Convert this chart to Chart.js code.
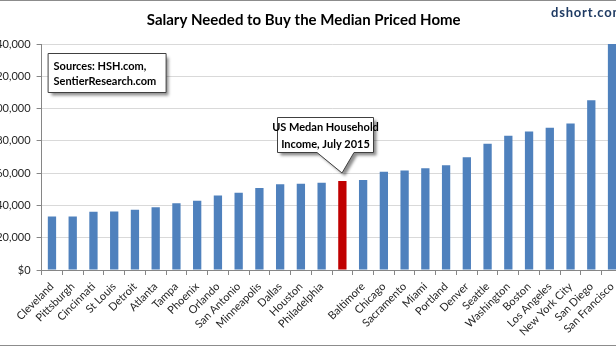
<!DOCTYPE html>
<html><head><meta charset="utf-8">
<script src="https://cdn.jsdelivr.net/npm/chart.js@4.4.0/dist/chart.umd.min.js"></script>
<style>
html,body{margin:0;padding:0;background:#fff;overflow:hidden;width:616px;height:346px;position:relative;}
#wrap{position:absolute;left:-15px;top:0;width:642px;height:346px;}
.hl{position:absolute;left:0;width:616px;height:1px;background:#8c8c8c;}
</style></head>
<body>
<div id="wrap"><canvas id="c"></canvas></div>
<div class="hl" style="top:0"></div>
<div class="hl" style="top:345px"></div>
<script>
const categories = ["Cleveland","Pittsburgh","Cincinnati","St Louis","Detroit","Atlanta","Tampa","Phoenix","Orlando","San Antonio","Minneapolis","Dallas","Houston","Philadelphia","","Baltimore","Chicago","Sacramento","Miami","Portland","Denver","Seattle","Washington","Boston","Los Angeles","New York City","San Diego","San Francisco"];
const salaryNeeded = [33200,33100,36100,36200,37300,38800,41300,42900,46200,47900,50800,53100,53500,54100,55200,55800,60900,61600,63000,64900,69800,78200,83100,85800,88100,90800,105100,140000];
const highlightIndex = 14;
const yTickValues = [0,20000,40000,60000,80000,100000,120000,140000];
const titleText = "Salary Needed to Buy the Median Priced Home";
const sourceLines = ["Sources: HSH.com,","SentierResearch.com"];
const calloutLines = ["US Medan Household","Income, July 2015"];
const siteText = "dshort.com";

const barColors = salaryNeeded.map((v,i)=> i===highlightIndex ? '#C00000' : '#4F81BD');
const FONT = 'Lato, "Open Sans", sans-serif';

function boxPath(ctx, l, t, r, b, pointer){
  ctx.beginPath();
  ctx.moveTo(l,t); ctx.lineTo(r,t); ctx.lineTo(r,b);
  if(pointer){
    ctx.lineTo(pointer.br,b); ctx.lineTo(pointer.x,pointer.y); ctx.lineTo(pointer.bl,b);
  }
  ctx.lineTo(l,b); ctx.closePath();
}
function drawShape(ctx, l,t,r,b,pointer){
  ctx.save();
  ctx.shadowColor='rgba(0,0,0,0.45)'; ctx.shadowOffsetX=3; ctx.shadowOffsetY=3; ctx.shadowBlur=3;
  boxPath(ctx,l,t,r,b,pointer); ctx.fillStyle='#fff'; ctx.fill();
  ctx.restore();
  ctx.save();
  boxPath(ctx,l,t,r,b,pointer); ctx.strokeStyle='#404040'; ctx.lineWidth=1; ctx.stroke();
  ctx.restore();
}

const annotations = {
  id:'annotations',
  afterDraw(chart){
    const ctx = chart.ctx, ca = chart.chartArea;
    // sources box
    const sl = ca.left+6, st = ca.top+9;
    drawShape(ctx, sl+0.5, st+0.5, sl+118.5, st+39.5, null);
    ctx.save();
    ctx.fillStyle='#000'; ctx.font='bold 11px '+FONT; ctx.textBaseline='middle'; ctx.textAlign='left';
    ctx.fillText(sourceLines[0], sl+6, st+13);
    ctx.fillText(sourceLines[1], sl+6, st+28);
    ctx.restore();
    // callout to highlighted bar
    const bar = chart.getDatasetMeta(0).data[highlightIndex];
    const tx = Math.round(bar.x), ty = Math.round(bar.y)-8;
    const l = tx-64.5, r = tx+31.5, t = ty-55.5, b = ty-20.5;
    drawShape(ctx, l, t, r, b, {x:tx, y:ty, bl:tx-25, br:tx+12});
    ctx.save();
    ctx.fillStyle='#000'; ctx.font='bold 11px '+FONT; ctx.textBaseline='middle'; ctx.textAlign='center';
    const cx=(l+r)/2;
    ctx.fillText(calloutLines[0], cx, t+10);
    ctx.fillText(calloutLines[1], cx, t+27);
    ctx.restore();
    // site text
    ctx.save();
    ctx.fillStyle='#1F3B63'; ctx.font='bold 13px '+FONT; ctx.textBaseline='middle'; ctx.textAlign='left';
    try { ctx.letterSpacing = '0.8px'; } catch(e) {}
    ctx.fillText(siteText, 566, 13);
    ctx.restore();
  }
};

new Chart(document.getElementById('c'), {
  type:'bar',
  data:{ labels:categories, datasets:[{ data:salaryNeeded, backgroundColor:barColors, borderWidth:0, barPercentage:0.4, categoryPercentage:1.0 }]},
  options:{
    responsive:true, maintainAspectRatio:false, animation:false,
    layout:{ padding:{ left:0, right:4.6, top:0, bottom:0 } },
    plugins:{
      legend:{display:false}, tooltip:{enabled:false},
      title:{ display:true, text:titleText, color:'#000', font:{family:FONT, size:15, weight:'bold'}, padding:{top:11, bottom:15} }
    },
    scales:{
      x:{
        grid:{ offset:true, drawOnChartArea:false, drawTicks:true, tickLength:5, tickColor:'#868686' },
        border:{ color:'#868686' },
        ticks:{ autoSkip:false, minRotation:45, maxRotation:45, padding:5, color:'#262626', font:{family:FONT, size:11} },
        afterFit(s){ s.height = 76; }
      },
      y:{
        min:0, max:140000,
        afterBuildTicks(s){ s.ticks = yTickValues.map(v=>({value:v})); },
        grid:{ color:'#D9D9D9', tickColor:'#868686', tickLength:5 },
        border:{ color:'#868686' },
        ticks:{ padding:6, color:'#262626', font:{family:FONT, size:11}, callback:(v)=>'$'+Number(v).toLocaleString('en-US') },
        afterFit(s){ s.width = 56.6; }
      }
    }
  },
  plugins:[annotations]
});
</script>
</body></html>
